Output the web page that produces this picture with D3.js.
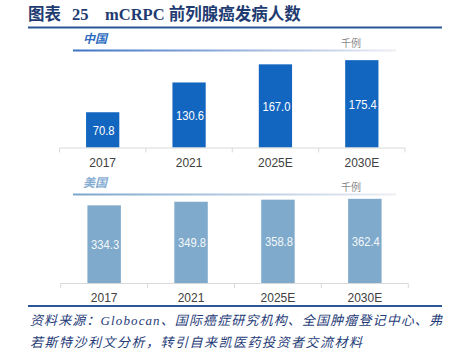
<!DOCTYPE html>
<html>
<head>
<meta charset="utf-8">
<script src="https://cdn.jsdelivr.net/npm/d3@7/dist/d3.min.js"></script>
<style>
  html, body { margin: 0; padding: 0; background: #fff; }
  svg { display: block; }
</style>
</head>
<body>
<svg id="chart" width="450" height="350"></svg>
<script>
// Years on the category axis
const years = ["2017", "2021", "2025E", "2030E"];
// mCRPC incidence, thousand cases
const chinaCases = [70.8, 130.6, 167.0, 175.4];
const usCases = [334.3, 349.8, 358.8, 362.4];
// Panel headings and unit
const panelNames = ["中国", "美国"];
const unitLabel = "千例";
// Source note lines
const sourceLines = [
  "资料来源：Globocan、国际癌症研究机构、全国肿瘤登记中心、弗",
  "若斯特沙利文分析，转引自来凯医药投资者交流材料"
];

const svg = d3.select("#chart");
const navy = "#23467f";
const cjkSans = "'Noto Sans CJK SC', 'Noto Sans', sans-serif";
const latinSans = "'Liberation Sans', Arial, 'Noto Sans CJK SC', sans-serif";

// ---- Title ----
const titleFont = "'Liberation Serif', 'Times New Roman', 'Noto Sans CJK SC', serif";
const title = svg.append("g")
  .attr("fill", "#1f3c72")
  .attr("font-family", titleFont)
  .attr("font-weight", "bold")
  .attr("font-size", 16.5);
title.append("text").attr("x", 28).attr("y", 20).text("图表");
title.append("text").attr("x", 72).attr("y", 20).text("25");
title.append("text").attr("x", 105).attr("y", 20).text("mCRPC 前列腺癌发病人数");

svg.append("line")
  .attr("x1", 28).attr("x2", 442).attr("y1", 27.5).attr("y2", 27.5)
  .attr("stroke", "#2b5797").attr("stroke-width", 2);

// ---- Gradients for panel header rules ----
const defs = svg.append("defs");
function headerGradient(id, c) {
  const g = defs.append("linearGradient").attr("id", id)
    .attr("x1", "0%").attr("x2", "100%").attr("y1", "0%").attr("y2", "0%");
  g.append("stop").attr("offset", "0%").attr("stop-color", c);
  g.append("stop").attr("offset", "100%").attr("stop-color", "#eeeef4");
}
headerGradient("gradCN", "#3c72c4");
headerGradient("gradUS", "#7aa6cc");

// ---- One bar panel ----
function drawPanel(opt) {
  const g = svg.append("g");
  const x = d3.scaleBand().domain(years).range(opt.xRange)
    .paddingInner(0.615).paddingOuter(0.3075);
  const y = d3.scaleLinear().domain([0, opt.yMax]).range([opt.baseY, opt.topY]);

  // heading, unit and rule
  g.append("text")
    .attr("x", 83).attr("y", opt.headY)
    .attr("font-family", cjkSans).attr("font-size", 12)
    .attr("font-weight", "bold").attr("font-style", "italic")
    .attr("fill", opt.headColor).text(opt.name);
  g.append("text")
    .attr("x", 341).attr("y", opt.headY + 4.5)
    .attr("font-family", cjkSans).attr("font-size", 10)
    .attr("fill", "#8a8a8a").text(unitLabel);
  g.append("rect")
    .attr("x", 73).attr("y", opt.ruleY - 1).attr("width", 323).attr("height", 2)
    .attr("fill", `url(#${opt.grad})`);

  // bars
  g.selectAll("rect.bar").data(opt.values).join("rect")
    .attr("class", "bar")
    .attr("x", (d, i) => x(years[i]))
    .attr("y", d => y(d))
    .attr("width", x.bandwidth())
    .attr("height", d => y(0) - y(d))
    .attr("fill", opt.barColor);

  // value labels, centred in each bar
  g.selectAll("text.val").data(opt.values).join("text")
    .attr("class", "val")
    .attr("x", (d, i) => x(years[i]) + x.bandwidth() / 2 + 1)
    .attr("y", d => (y(d) + y(0)) / 2)
    .attr("dy", "0.36em")
    .attr("text-anchor", "middle")
    .attr("font-family", latinSans).attr("font-size", 13.5)
    .attr("fill", opt.labelColor)
    .text(d => d.toFixed(1))
    .each(function () {
      const w = this.getComputedTextLength();
      d3.select(this).attr("textLength", w * 0.83).attr("lengthAdjust", "spacingAndGlyphs");
    });

  // category axis: baseline with ticks at band boundaries
  const [x0, x1] = opt.xRange;
  const step = x.step();
  g.append("line")
    .attr("x1", x0).attr("x2", x1).attr("y1", opt.baseY + 0.5).attr("y2", opt.baseY + 0.5)
    .attr("stroke", "#d9d9d9").attr("stroke-width", 1);
  g.selectAll("line.tick").data(d3.range(years.length + 1)).join("line")
    .attr("class", "tick")
    .attr("x1", i => x0 + i * step).attr("x2", i => x0 + i * step)
    .attr("y1", opt.baseY + 0.5).attr("y2", opt.baseY + 5)
    .attr("stroke", "#d9d9d9").attr("stroke-width", 1);
  g.selectAll("text.cat").data(years).join("text")
    .attr("class", "cat")
    .attr("x", d => x(d) + x.bandwidth() / 2)
    .attr("y", opt.baseY + 19)
    .attr("text-anchor", "middle")
    .attr("font-family", latinSans).attr("font-size", 12)
    .attr("fill", "#404040")
    .text(d => d);
}

drawPanel({
  name: panelNames[0], values: chinaCases, yMax: 200,
  xRange: [59.5, 405], baseY: 147.5, topY: 47.9,
  headY: 42.5, ruleY: 50.5, grad: "gradCN",
  headColor: "#2f6cc0", barColor: "#1366bf", labelColor: "#ffffff"
});
drawPanel({
  name: panelNames[1], values: usCases, yMax: 400,
  xRange: [60.7, 408.3], baseY: 283, topY: 190.1,
  headY: 186.5, ruleY: 194.5, grad: "gradUS",
  headColor: "#86add2", barColor: "#7faacb", labelColor: "#f4f8fb"
});

// ---- Bottom rule and source note ----
svg.append("line")
  .attr("x1", 28).attr("x2", 442).attr("y1", 306).attr("y2", 306)
  .attr("stroke", "#2b5797").attr("stroke-width", 2);

const srcFont = "'Liberation Serif', 'Times New Roman', 'Noto Sans CJK SC', serif";
svg.selectAll("text.src").data(sourceLines).join("text")
  .attr("class", "src")
  .attr("x", 30)
  .attr("y", (d, i) => 325 + i * 22)
  .attr("font-family", srcFont).attr("font-size", 13)
  .attr("font-style", "italic")
  .attr("fill", "#1f3c78")
  .attr("textLength", (d, i) => i === 0 ? 412 : 332)
  .attr("lengthAdjust", "spacing")
  .text(d => d);
</script>
</body>
</html>
